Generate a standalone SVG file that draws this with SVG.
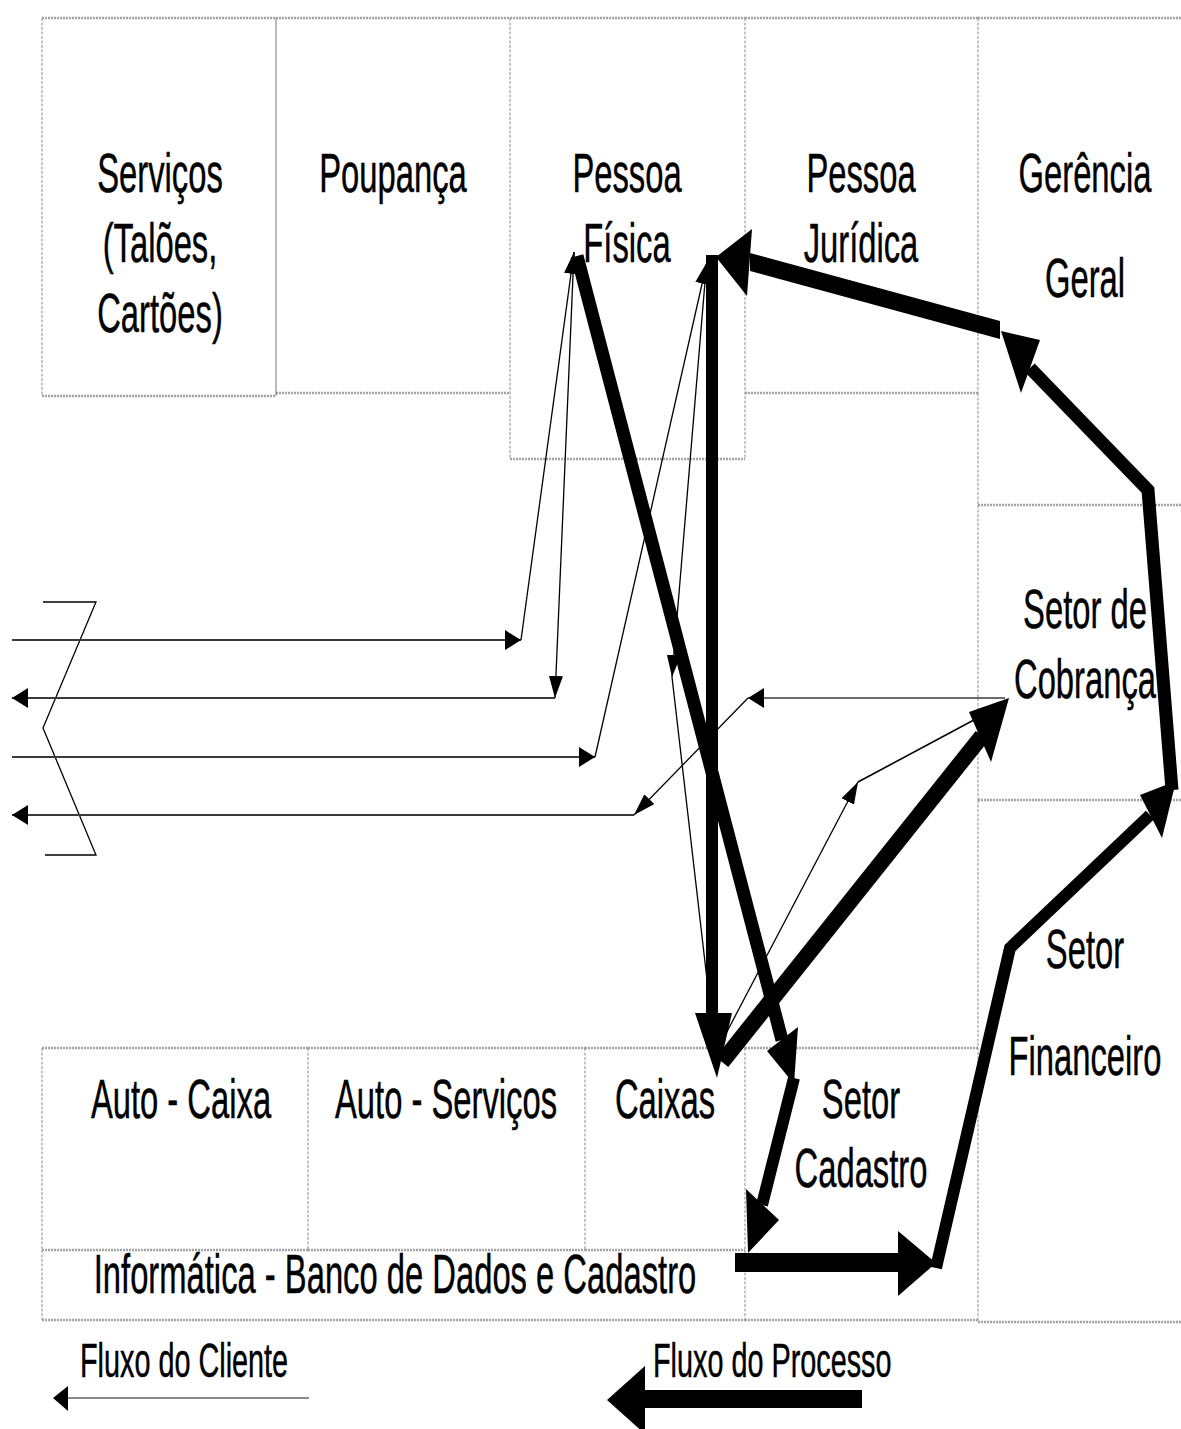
<svg xmlns="http://www.w3.org/2000/svg" width="1181" height="1429" viewBox="0 0 1181 1429">
  <defs>
    <style>
      .h{fill:none;stroke:#a3a3a3;stroke-width:2.4;stroke-dasharray:2 1}
      .v{fill:none;stroke:#8f8f8f;stroke-width:1;stroke-dasharray:3 1.5}
      .lbl{font-family:"Liberation Sans",Arial,sans-serif;font-size:56px;text-anchor:middle;fill:#000;stroke:#000;stroke-width:0.5}
      .leg{font-size:48px;text-anchor:start}
      .thin{fill:none;stroke:#000;stroke-width:1.3}
      .cli{fill:none;stroke:#3a3a3a;stroke-width:2.2}
      .thick{fill:none;stroke:#000;stroke-linejoin:miter;stroke-miterlimit:10}
      .head{fill:#000}
    </style>
    <!-- small heads for the client flow: one for horizontal runs, one for steep runs -->
    <marker id="ah" markerUnits="userSpaceOnUse" viewBox="0 0 16 20" refX="16" refY="10" markerWidth="16" markerHeight="20" orient="auto">
      <path d="M0,0 L16,10 L0,20 Z" fill="#000"/>
    </marker>
    <marker id="av" markerUnits="userSpaceOnUse" viewBox="0 0 22 14" refX="22" refY="7" markerWidth="22" markerHeight="14" orient="auto">
      <path d="M0,0 L22,7 L0,14 Z" fill="#000"/>
    </marker>
  </defs>

  <rect width="1181" height="1429" fill="#fff"/>

  <!-- upper row of departments -->
  <g id="servicos">
    <path class="h" d="M42,18 H276 M42,396 H276"/>
    <path class="v" d="M42,18 V396"/>
    <text class="lbl" transform="translate(160,0) scale(0.585,1)"><tspan x="0" y="192">Serviços</tspan><tspan x="0" y="262">(Talões,</tspan><tspan x="0" y="332">Cartões)</tspan></text>
  </g>
  <g id="poupanca">
    <path class="h" d="M276,18 H510 M276,393 H510"/>
    <path class="v" d="M276,18 V396" style="stroke:#777;stroke-dasharray:none"/>
    <text class="lbl" transform="translate(393,0) scale(0.585,1)"><tspan x="0" y="192">Poupança</tspan></text>
  </g>
  <g id="pessoa-fisica">
    <path class="h" d="M510,18 H745 M510,459 H745"/>
    <path class="v" d="M510,18 V459 M745,18 V459"/>
    <text class="lbl" transform="translate(627,0) scale(0.585,1)"><tspan x="0" y="192">Pessoa</tspan><tspan x="0" y="262">Física</tspan></text>
  </g>
  <g id="pessoa-juridica">
    <path class="h" d="M745,18 H978 M745,393 H978"/>
    <path class="v" d="M978,18 V393"/>
    <text class="lbl" transform="translate(861,0) scale(0.585,1)"><tspan x="0" y="192">Pessoa</tspan><tspan x="0" y="262">Jurídica</tspan></text>
  </g>
  <g id="gerencia-geral">
    <path class="h" d="M978,18 H1181 M978,505 H1181"/>
    <path class="v" d="M978,393 V505"/>
    <text class="lbl" transform="translate(1085,0) scale(0.585,1)"><tspan x="0" y="192">Gerência</tspan><tspan x="0" y="297">Geral</tspan></text>
  </g>
  <g id="setor-cobranca">
    <path class="h" d="M978,800 H1181"/>
    <path class="v" d="M978,505 V800"/>
    <text class="lbl" transform="translate(1085,0) scale(0.585,1)"><tspan x="0" y="628">Setor de</tspan><tspan x="0" y="698">Cobrança</tspan></text>
  </g>
  <g id="setor-financeiro">
    <path class="h" d="M978,1322 H1181"/>
    <path class="v" d="M978,800 V1322"/>
    <text class="lbl" transform="translate(1085,0) scale(0.585,1)"><tspan x="0" y="968">Setor</tspan><tspan x="0" y="1075">Financeiro</tspan></text>
  </g>

  <!-- lower row of departments -->
  <g id="auto-caixa">
    <path class="h" d="M42,1048 H308 M42,1250 H308"/>
    <path class="v" d="M42,1048 V1250 M308,1048 V1250"/>
    <text class="lbl" transform="translate(181,0) scale(0.585,1)"><tspan x="0" y="1118">Auto - Caixa</tspan></text>
  </g>
  <g id="auto-servicos">
    <path class="h" d="M308,1048 H585 M308,1250 H585"/>
    <path class="v" d="M585,1048 V1250"/>
    <text class="lbl" transform="translate(446,0) scale(0.585,1)"><tspan x="0" y="1118">Auto - Serviços</tspan></text>
  </g>
  <g id="caixas">
    <path class="h" d="M585,1048 H745 M585,1250 H745"/>
    <path class="v" d="M745,1048 V1250"/>
    <text class="lbl" transform="translate(665,0) scale(0.585,1)"><tspan x="0" y="1118">Caixas</tspan></text>
  </g>
  <g id="setor-cadastro">
    <path class="h" d="M745,1048 H978 M745,1320 H978"/>
    <path class="v" d="M745,1250 V1320"/>
    <text class="lbl" transform="translate(861,0) scale(0.585,1)"><tspan x="0" y="1118">Setor</tspan><tspan x="0" y="1187">Cadastro</tspan></text>
  </g>
  <g id="informatica">
    <path class="h" d="M42,1320 H745"/>
    <path class="v" d="M42,1250 V1320"/>
    <text class="lbl" transform="translate(395,0) scale(0.585,1)"><tspan x="0" y="1293">Informática - Banco de Dados e Cadastro</tspan></text>
  </g>

  <!-- break symbol where the client lines leave the building -->
  <g id="entrada">
    <polyline class="thin" points="43,602 96,602 43,728 96,855 45,855"/>
  </g>

  <g id="connectors">
    <!-- client flow (thin) -->
    <line class="cli" x1="12" y1="640" x2="521" y2="640" marker-end="url(#ah)"/>
    <line class="thin" x1="521" y1="640" x2="574" y2="252" marker-end="url(#av)"/>
    <line class="thin" x1="574" y1="252" x2="555" y2="698" marker-end="url(#av)"/>
    <line class="cli" x1="555" y1="698" x2="12" y2="698" marker-end="url(#ah)"/>

    <line class="cli" x1="12" y1="757" x2="595" y2="757" marker-end="url(#ah)"/>
    <line class="thin" x1="595" y1="757" x2="707" y2="262" marker-end="url(#av)"/>
    <line class="thin" x1="707" y1="258" x2="672" y2="677" marker-end="url(#av)"/>
    <line class="thin" x1="672" y1="677" x2="714" y2="1040"/>
    <line class="thin" x1="720" y1="1045" x2="858" y2="782" marker-end="url(#av)"/>
    <line class="thin" x1="858" y1="782" x2="1000" y2="706" style="stroke-width:1.6"/>
    <line class="cli" x1="1005" y1="698" x2="748" y2="698" marker-end="url(#ah)" style="stroke-width:1.6"/>
    <line class="thin" x1="748" y1="698" x2="634" y2="815" marker-end="url(#av)"/>
    <line class="cli" x1="634" y1="815" x2="12" y2="815" marker-end="url(#ah)"/>

    <!-- process flow (thick) -->
    <line class="thick" x1="577" y1="256" x2="782" y2="1040" stroke-width="13"/>
    <polygon class="head" points="794,1084 767,1051 798,1027"/>

    <line class="thick" x1="794" y1="1078" x2="762" y2="1205" stroke-width="12"/>
    <polygon class="head" points="748,1253 746,1189 779,1220"/>

    <line class="thick" x1="735" y1="1262.5" x2="900" y2="1262.5" stroke-width="19"/>
    <polygon class="head" points="936,1263 898,1231 898,1296"/>

    <polyline class="thick" points="936,1268 1010,948 1150,815" stroke-width="12"/>
    <polygon class="head" points="1176,781 1140,795 1162,838"/>

    <polyline class="thick" points="1172,790 1148,490 1030,368" stroke-width="13"/>
    <polygon class="head" points="1001,331 1040,340 1021,393"/>

    <polygon class="head" points="750,253 1000,321 1000,339 750,271"/>
    <polygon class="head" points="716,257 752,229 747,296"/>

    <line class="thick" x1="712" y1="255" x2="712" y2="1015" stroke-width="12"/>
    <polygon class="head" points="717,1078 695,1013 732,1013"/>

    <line class="thick" x1="722" y1="1062" x2="982" y2="736" stroke-width="16"/>
    <polygon class="head" points="1009,698 969,712 991,762"/>
  </g>

  <!-- key -->
  <g id="legenda">
    <text class="lbl leg" transform="translate(80,0) scale(0.6,1)"><tspan x="0" y="1377">Fluxo do Cliente</tspan></text>
    <line class="cli" x1="66" y1="1398" x2="309" y2="1398" style="stroke:#8a8a8a"/>
    <polygon class="head" points="53,1398 68,1386 68,1411"/>

    <text class="lbl leg" transform="translate(653,0) scale(0.6,1)"><tspan x="0" y="1377">Fluxo do Processo</tspan></text>
    <rect x="644" y="1390" width="218" height="18" fill="#000"/>
    <polygon class="head" points="607,1400 645,1366 645,1434"/>
  </g>
</svg>
